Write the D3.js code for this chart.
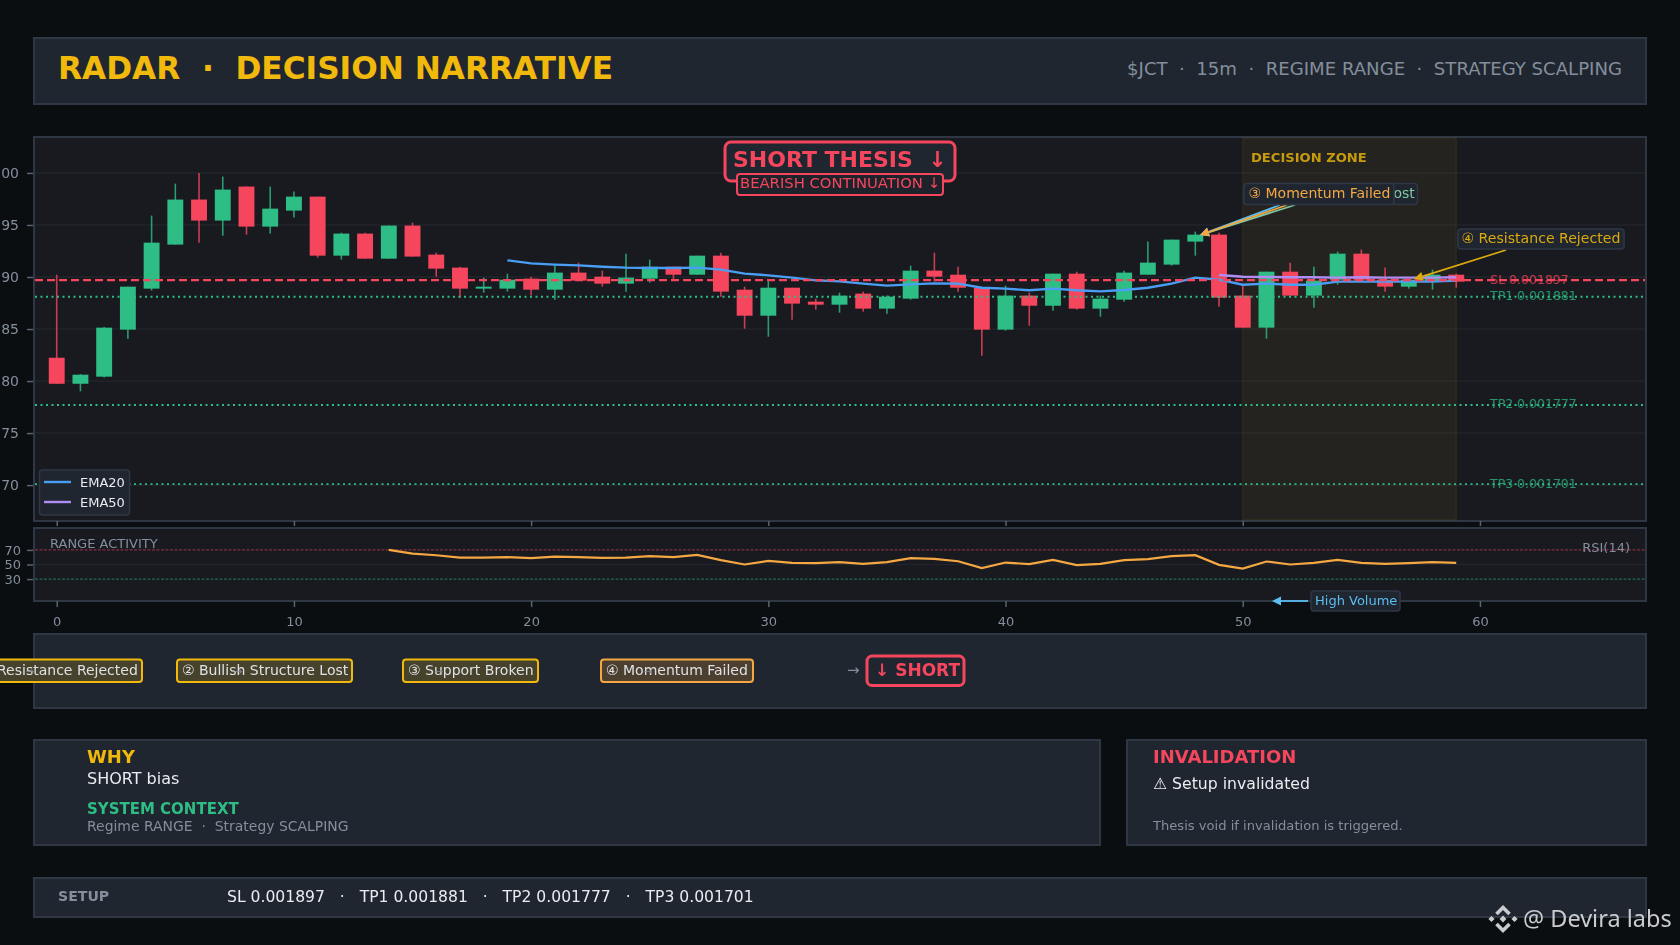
<!DOCTYPE html>
<html>
<head>
  <meta http-equiv="Content-Type" content="text/html; charset=UTF-8">
  <script src="https://d3js.org/d3.v7.min.js"></script>
  <style>
    body { margin:0;position:fixed;top:0;right:0;bottom:0;left:0;background:#0b0e11; }
    svg { display:block; }
    text { font-family:"DejaVu Sans",sans-serif; white-space:pre; }
  </style>
</head>

<body>
  <svg width="1680" height="945"></svg>
  <script>
    // prices are in units of 0.00001
    var opens = [182.24,179.74,180.42,184.94,188.88,193.11,197.44,195.42,198.69,194.84,
      196.38,197.72,192.05,194.17,191.76,194.94,192.15,190.90,188.88,188.88,
      189.84,188.78,190.42,190.03,189.36,189.84,190.99,190.22,192.05,188.78,
      186.28,188.97,187.63,187.34,188.40,186.96,187.92,190.61,190.22,188.97,
      184.94,188.21,187.24,190.32,186.96,187.82,190.22,191.19,193.40,194.07,
      188.21,185.13,190.51,188.21,189.74,192.24,189.74,189.07,189.55,190.22];
    var closes = [179.74,180.61,185.13,189.07,193.30,197.44,195.42,198.40,194.84,196.57,
      197.72,192.05,194.17,191.76,194.94,191.96,190.80,188.88,189.07,189.74,
      188.78,190.42,189.65,189.36,189.94,190.99,190.22,192.05,188.59,186.28,
      188.97,187.44,187.34,188.21,186.96,188.11,190.61,190.03,188.97,184.94,
      188.21,187.24,190.32,186.96,187.92,190.42,191.38,193.59,194.07,188.01,
      185.13,190.51,188.21,189.65,192.24,189.74,189.07,189.74,190.22,189.55];
    var highs = [190.22,180.67,185.19,189.07,195.90,198.97,200.00,199.65,198.69,198.69,
      198.21,197.72,194.26,194.26,194.94,195.22,192.34,190.99,189.94,190.32,
      190.03,191.19,191.38,190.61,192.24,191.67,190.99,192.05,192.34,189.07,
      189.65,188.97,187.92,188.49,188.59,188.21,191.09,192.34,190.99,188.97,
      189.17,188.49,190.32,190.51,188.21,190.61,193.40,193.59,194.36,194.26,
      189.17,190.51,191.38,190.99,192.44,192.63,190.90,189.74,190.71,190.32];
    var lows = [179.74,179.01,180.35,184.07,188.69,193.11,193.30,193.97,194.07,194.17,
      195.71,191.86,191.67,191.76,191.76,191.96,190.03,188.01,188.49,188.59,
      188.21,187.82,189.65,189.07,188.59,189.46,189.74,190.22,188.11,185.03,
      184.26,185.90,186.86,186.57,186.67,186.47,187.82,189.55,188.59,182.44,
      184.84,185.32,186.76,186.86,186.19,187.63,190.22,191.09,192.05,187.15,
      185.13,184.07,188.21,187.05,189.26,189.74,188.59,188.88,188.78,188.97];

    var ema20Start = 19;
    var ema20 = [191.60,191.31,191.19,191.12,190.99,190.90,190.87,190.87,190.90,190.71,
      190.32,190.16,189.94,189.68,189.58,189.36,189.17,189.29,189.39,189.36,
      188.97,188.88,188.72,188.88,188.72,188.62,188.75,188.97,189.36,189.94,
      189.74,189.26,189.36,189.26,189.26,189.55,189.55,189.55,189.55,189.55,189.65];
    var ema50Start = 49;
    var ema50 = [190.19,190.03,190.00,189.97,189.97,189.94,189.97,189.94,189.94,189.94,189.97];

    var rsiStart = 14;
    var rsi = [70,65,62.7,59.5,59.5,60,58.6,60.9,60,59.1,59.5,61.4,60,63.2,55.9,50,55,52.3,51.8,53.2,
      50.9,53.2,58.6,57.7,54.5,45,52.7,50.5,56.4,49.1,50.9,55.9,57.3,61.4,62.7,49.5,44.5,54.1,50,
      52.3,56.4,52.3,50.9,51.8,53.2,52.3];

    var levelNames = ["SL 0.001897","TP1 0.001881","TP2 0.001777","TP3 0.001701"];
    var levelValues = [189.7,188.1,177.7,170.1];
    var priceTicks = [170,175,180,185,190,195,200];
    var rsiTicks = [30,50,70];
    var indexTicks = [0,10,20,30,40,50,60];

    var BG_PANEL = "#1f2630", BG_CHART = "#181a20", BORDER = "#2f3745",
        GREEN = "#2ebd85", RED = "#f6465d", YELLOW = "#f0b90b", ORANGE = "#f5a742",
        BLUE = "#4a9ff5", PURPLE = "#b18cf2", TEXT = "#eaecef", GREY = "#848e9c", CYAN = "#5bbdf0";

    var svg = d3.select("svg");

    var x = d3.scaleLinear().domain([-1, 67]).range([33, 1646]);
    var y = d3.scaleLinear().domain([166.6, 203.5]).range([520.5, 136.5]);
    var yRsi = d3.scaleLinear().domain([0, 100]).range([601, 528]);

    function panel(x0, y0, x1, y1, fill) {
      svg.append("rect").attr("x", x0).attr("y", y0).attr("width", x1 - x0).attr("height", y1 - y0)
        .attr("fill", fill || BG_PANEL).attr("stroke", BORDER).attr("stroke-width", 2);
    }
    function label(tx, ty, str, size, color, opts) {
      opts = opts || {};
      return svg.append("text").attr("x", tx).attr("y", ty).text(str)
        .attr("font-size", size).attr("fill", color)
        .attr("font-weight", opts.bold ? "bold" : null)
        .attr("text-anchor", opts.anchor || "start")
        .attr("opacity", opts.opacity == null ? null : opts.opacity);
    }
    function arrow(x0, y0, x1, y1, color) {
      // straight annotation arrow with a small filled head
      var a = Math.atan2(y1 - y0, x1 - x0), h = 9, w = 4.5;
      svg.append("line").attr("x1", x0).attr("y1", y0).attr("x2", x1 - h * Math.cos(a)).attr("y2", y1 - h * Math.sin(a))
        .attr("stroke", color).attr("stroke-width", 1.8);
      var bx = x1 - h * Math.cos(a), by = y1 - h * Math.sin(a);
      svg.append("path").attr("fill", color).attr("d", d3.line()([
        [x1, y1],
        [bx - w * Math.sin(a), by + w * Math.cos(a)],
        [bx + w * Math.sin(a), by - w * Math.cos(a)]
      ]) + "Z");
    }
    function box(x0, y0, x1, y1, fill, stroke, sw, r) {
      svg.append("rect").attr("x", x0).attr("y", y0).attr("width", x1 - x0).attr("height", y1 - y0)
        .attr("rx", r).attr("fill", fill).attr("stroke", stroke).attr("stroke-width", sw);
    }
    function styleAxis(g, size) {
      g.select(".domain").remove();
      g.selectAll(".tick line").attr("stroke", "#5b6370").attr("stroke-width", 1.5);
      g.selectAll(".tick text").attr("fill", GREY).attr("font-size", size || 13).attr("font-family", '"DejaVu Sans",sans-serif');
    }

    // header
    panel(34, 38, 1646, 104);
    label(58, 79, "RADAR  ·  DECISION NARRATIVE", 31.2, YELLOW, {bold: true});
    label(1622, 75, "$JCT  ·  15m  ·  REGIME RANGE  ·  STRATEGY SCALPING", 18.1, GREY, {anchor: "end"});

    // main chart
    panel(34, 137, 1646, 521, BG_CHART);
    svg.append("clipPath").attr("id", "main").append("rect").attr("x", 34).attr("y", 137).attr("width", 1612).attr("height", 384);
    svg.append("clipPath").attr("id", "sub").append("rect").attr("x", 34).attr("y", 528).attr("width", 1612).attr("height", 73);

    svg.append("g").selectAll("line").data(priceTicks).join("line")
      .attr("x1", 35).attr("x2", 1645).attr("y1", y).attr("y2", y)
      .attr("stroke", "#26292f").attr("stroke-width", 1);

    svg.append("rect").attr("x", x(50)).attr("y", 138).attr("width", x(59) - x(50)).attr("height", 382)
      .attr("fill", YELLOW).attr("fill-opacity", 0.06)
      .attr("stroke", YELLOW).attr("stroke-opacity", 0.1);

    var candles = opens.map(function(o, i) {
      return {i: i, o: o, c: closes[i], h: highs[i], l: lows[i]};
    });
    var bw = x(0.67) - x(0);
    var cg = svg.append("g").attr("clip-path", "url(#main)");
    cg.selectAll("line.wick").data(candles).join("line").attr("class", "wick")
      .attr("x1", function(d) { return x(d.i); }).attr("x2", function(d) { return x(d.i); })
      .attr("y1", function(d) { return y(d.h); }).attr("y2", function(d) { return y(d.l); })
      .attr("stroke", function(d) { return d.c >= d.o ? GREEN : RED; })
      .attr("stroke-opacity", 0.8).attr("stroke-width", 1.6);
    cg.selectAll("rect.body").data(candles).join("rect").attr("class", "body")
      .attr("x", function(d) { return x(d.i) - bw / 2; }).attr("width", bw)
      .attr("y", function(d) { return y(Math.max(d.o, d.c)); })
      .attr("height", function(d) { return Math.max(1.5, y(Math.min(d.o, d.c)) - y(Math.max(d.o, d.c))); })
      .attr("fill", function(d) { return d.c >= d.o ? GREEN : RED; });

    var lineGen = d3.line().x(function(d) { return x(d[0]); }).y(function(d) { return y(d[1]); });
    cg.append("path").attr("fill", "none").attr("stroke", BLUE).attr("stroke-width", 2.4)
      .attr("d", lineGen(ema20.map(function(v, i) { return [ema20Start + i, v]; })));
    cg.append("path").attr("fill", "none").attr("stroke", PURPLE).attr("stroke-width", 2.4)
      .attr("d", lineGen(ema50.map(function(v, i) { return [ema50Start + i, v]; })));

    levelValues.forEach(function(v, i) {
      var isSl = i == 0, c = isSl ? RED : GREEN;
      cg.append("line").attr("x1", 35).attr("x2", 1645).attr("y1", y(v)).attr("y2", y(v))
        .attr("stroke", c).attr("stroke-width", isSl ? 2.4 : 1.8)
        .attr("stroke-dasharray", isSl ? "8,4" : "2,3.5");
      label(1490, y(v) + 3.5, levelNames[i], 12.5, c, {opacity: 0.75});
    });

    svg.append("g").attr("transform", "translate(33,0)")
      .call(d3.axisLeft(y).tickValues(priceTicks).tickSize(6).tickPadding(8)
        .tickFormat(function(v) { return (v / 1e5).toFixed(5); }))
      .call(styleAxis, 14);
    svg.append("g").attr("transform", "translate(0,521)")
      .call(d3.axisBottom(x).tickValues(indexTicks).tickSize(5).tickFormat(""))
      .call(styleAxis);

    // legend
    box(39.5, 470, 129.5, 515, BG_PANEL, BORDER, 1.5, 3);
    [["EMA20", BLUE, 482], ["EMA50", PURPLE, 502]].forEach(function(e) {
      svg.append("line").attr("x1", 44).attr("x2", 71).attr("y1", e[2]).attr("y2", e[2])
        .attr("stroke", e[1]).attr("stroke-width", 2.4);
      label(80, e[2] + 5, e[0], 13, TEXT);
    });

    // thesis badge
    box(725, 142, 955, 181, BG_PANEL, RED, 3, 6);
    label(733, 167, "SHORT THESIS  ↓", 22, RED, {bold: true});
    box(737, 174, 943, 195, "#1d222b", RED, 2, 3);
    label(740, 188, "BEARISH CONTINUATION ↓", 14.8, RED);

    label(1251, 162, "DECISION ZONE", 13.1, YELLOW, {bold: true, opacity: 0.8});

    // overlapping annotations on the chart
    arrow(1295, 205, 1200, 235, "#7fc8a0");
    arrow(1280, 205, 1200, 235, CYAN);
    arrow(1287, 205, 1200, 235, ORANGE);
    box(1244, 183.5, 1417.5, 204.5, BG_PANEL, BORDER, 1.5, 3);
    label(1248.5, 198, "② Bullish Structure Lost", 14, "#7fc8a0");
    box(1244, 183.5, 1394, 204.5, BG_PANEL, BORDER, 1.5, 3);
    label(1248.5, 198, "③ Momentum Failed", 14, ORANGE);

    arrow(1506, 250, 1414, 279, "#dcaa0e");
    box(1458, 229, 1624, 249, BG_PANEL, BORDER, 1.5, 3);
    label(1461.5, 243, "④ Resistance Rejected", 14.1, "#dcaa0e");

    // rsi panel
    panel(34, 528, 1646, 601, BG_CHART);
    var rg = svg.append("g").attr("clip-path", "url(#sub)");
    rg.append("line").attr("x1", 35).attr("x2", 1645).attr("y1", yRsi(50)).attr("y2", yRsi(50)).attr("stroke", "#22252b");
    rg.append("line").attr("x1", 35).attr("x2", 1645).attr("y1", yRsi(70)).attr("y2", yRsi(70))
      .attr("stroke", RED).attr("stroke-opacity", 0.6).attr("stroke-dasharray", "3,1.5");
    rg.append("line").attr("x1", 35).attr("x2", 1645).attr("y1", yRsi(30)).attr("y2", yRsi(30))
      .attr("stroke", GREEN).attr("stroke-opacity", 0.6).attr("stroke-dasharray", "3,1.5");
    rg.append("path").attr("fill", "none").attr("stroke", ORANGE).attr("stroke-width", 2.2)
      .attr("d", d3.line().x(function(d, i) { return x(rsiStart + i); }).y(function(d) { return yRsi(d); })(rsi));
    label(50, 548, "RANGE ACTIVITY", 13, GREY);
    label(1630, 552, "RSI(14)", 13, GREY, {anchor: "end"});

    svg.append("g").attr("transform", "translate(33,0)")
      .call(d3.axisLeft(yRsi).tickValues(rsiTicks).tickSize(6).tickPadding(6))
      .call(styleAxis);
    svg.append("g").attr("transform", "translate(0,601)")
      .call(d3.axisBottom(x).tickValues(indexTicks).tickSize(6).tickPadding(10))
      .call(styleAxis);

    arrow(1308, 601, 1272, 601, CYAN);
    box(1311, 591, 1400, 611, BG_PANEL, BORDER, 1.5, 3);
    label(1315, 605, "High Volume", 13, CYAN);

    // chain
    panel(34, 634, 1646, 708);
    var chain = [["① Resistance Rejected", -25, 142, YELLOW, 30], ["② Bullish Structure Lost", 177, 352, YELLOW, 238],
                 ["③ Support Broken", 403, 538, YELLOW, 439], ["④ Momentum Failed", 601, 753, ORANGE, 648]];
    chain.forEach(function(p) {
      box(p[1], 659.5, p[2], 682, p[3] == YELLOW ? "#47422c" : "#4c3f30", p[3], 2, 3);
      label(p[1] + 5, 675, p[0], 14, "#dfe1e4");
      label(p[4], 675, "→", 10, GREY, {anchor: "middle"});
    });
    label(847, 675, "→", 15, GREY);
    box(867, 656, 964, 685.5, BG_PANEL, RED, 3, 5);
    label(875, 675.5, "↓ SHORT", 17, RED, {bold: true});

    // why / invalidation
    panel(34, 740, 1100, 845);
    label(87, 763, "WHY", 18, YELLOW, {bold: true});
    label(87, 784, "SHORT bias", 16, TEXT);
    label(87, 814, "SYSTEM CONTEXT", 15, GREEN, {bold: true});
    label(87, 831, "Regime RANGE  ·  Strategy SCALPING", 13.95, GREY);

    panel(1127, 740, 1646, 845);
    label(1153, 763, "INVALIDATION", 18, RED, {bold: true});
    label(1153, 789, "⚠ Setup invalidated", 15.7, TEXT);
    label(1153, 830, "Thesis void if invalidation is triggered.", 13.1, GREY);

    // setup
    panel(34, 878, 1646, 917);
    label(58, 901, "SETUP", 14.1, GREY, {bold: true});
    label(227, 901.5, "SL 0.001897   ·   TP1 0.001881   ·   TP2 0.001777   ·   TP3 0.001701", 15.6, TEXT);

    // watermark
    var markColor = "#c9cbce";
    var mark = svg.append("g").attr("transform", "translate(1503,919)");
    [[[-6.5, -5], [0, -11.5], [6.5, -5]], [[-6.5, 5], [0, 11.5], [6.5, 5]]].forEach(function(pts) {
      mark.append("path").attr("d", d3.line()(pts)).attr("fill", "none").attr("stroke", markColor).attr("stroke-width", 3.6);
    });
    [[0, 0, 2.4], [-11.5, 0, 2.2], [11.5, 0, 2.2]].forEach(function(d) {
      mark.append("rect").attr("x", d[0] - d[2]).attr("y", d[1] - d[2]).attr("width", 2 * d[2]).attr("height", 2 * d[2])
        .attr("fill", markColor).attr("transform", "rotate(45 " + d[0] + " " + d[1] + ")");
    });
    label(1523, 927, "@ Devira labs", 23.5, markColor).style("font-family", '"Noto Sans",sans-serif');
  </script>
</body></html>
